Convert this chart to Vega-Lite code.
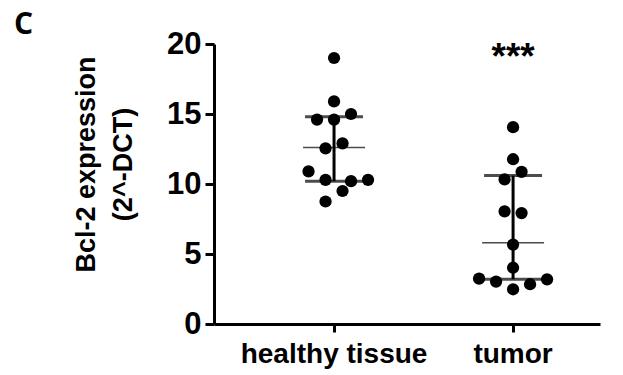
{
  "$schema": "https://vega.github.io/schema/vega-lite/v6.json",
  "autosize": "none",
  "width": 386,
  "height": 280,
  "padding": {"left": 214, "top": 44, "right": 23, "bottom": 51},
  "background": "white",
  "title": {"text": "C", "anchor": "start", "frame": "group", "dx": -200, "dy": 36, "offset": 0, "baseline": "alphabetic", "font": "Open Sans", "fontSize": 30, "fontWeight": "bold", "color": "black"},
  "config": {"view": {"stroke": null}, "font": "Liberation Sans"},
  "datasets": {
    "points": [
      {"group": "healthy tissue", "col": 0, "value": 19.0},
      {"group": "healthy tissue", "col": 0, "value": 15.9},
      {"group": "healthy tissue", "col": 2, "value": 15.0},
      {"group": "healthy tissue", "col": 0, "value": 14.6},
      {"group": "healthy tissue", "col": -2, "value": 14.6},
      {"group": "healthy tissue", "col": 1, "value": 12.9},
      {"group": "healthy tissue", "col": -1, "value": 12.55},
      {"group": "healthy tissue", "col": -3, "value": 10.9},
      {"group": "healthy tissue", "col": -1, "value": 10.3},
      {"group": "healthy tissue", "col": 2, "value": 10.2},
      {"group": "healthy tissue", "col": 4, "value": 10.3},
      {"group": "healthy tissue", "col": 1, "value": 9.5},
      {"group": "healthy tissue", "col": -1, "value": 8.75},
      {"group": "tumor", "col": 0, "value": 14.06},
      {"group": "tumor", "col": 0, "value": 11.77},
      {"group": "tumor", "col": 1, "value": 10.87},
      {"group": "tumor", "col": -1, "value": 10.33},
      {"group": "tumor", "col": -1, "value": 8.04},
      {"group": "tumor", "col": 1, "value": 7.92},
      {"group": "tumor", "col": 0, "value": 5.67},
      {"group": "tumor", "col": 0, "value": 4.02},
      {"group": "tumor", "col": -4, "value": 3.24},
      {"group": "tumor", "col": -2, "value": 3.03},
      {"group": "tumor", "col": 2, "value": 2.84},
      {"group": "tumor", "col": 4, "value": 3.19},
      {"group": "tumor", "col": 0, "value": 2.48}
    ],
    "summary": [
      {"group": "healthy tissue", "median": 12.6, "q1": 10.2, "q3": 14.8},
      {"group": "tumor", "median": 5.8, "q1": 3.2, "q3": 10.6}
    ],
    "signif": [
      {"group": "tumor", "label": "***", "y": 19.0}
    ]
  },
  "encoding": {
    "x": {
      "field": "group", "type": "nominal", "sort": ["healthy tissue", "tumor"],
      "scale": {"type": "band", "paddingInner": 1, "paddingOuter": 0.578, "align": 0.58},
      "axis": {"title": null, "labelAngle": 0, "labelLimit": 0, "labelFont": "Liberation Sans", "labelFontSize": 28, "labelFontWeight": "bold", "labelColor": "black", "labelPadding": 8, "domainColor": "black", "domainWidth": 3, "tickColor": "black", "tickWidth": 3, "tickSize": 8, "grid": false}
    }
  },
  "layer": [
    {
      "data": {"name": "summary"},
      "mark": {"type": "rule", "color": "black", "strokeWidth": 3},
      "encoding": {
        "y": {"field": "q1", "type": "quantitative"},
        "y2": {"field": "q3"}
      }
    },
    {
      "data": {"name": "points"},
      "mark": {"type": "circle", "color": "black", "opacity": 1, "size": 150},
      "encoding": {
        "xOffset": {"field": "col", "type": "quantitative", "scale": {"domain": [-4, 4], "range": [-34, 34]}},
        "y": {
          "field": "value", "type": "quantitative",
          "scale": {"domain": [0, 20], "nice": false, "zero": true},
          "axis": {"title": ["Bcl-2 expression", "(2^-DCT)"], "values": [0, 5, 10, 15, 20], "grid": false, "labelFont": "Liberation Sans", "labelFontSize": 31, "labelFontWeight": "bold", "labelColor": "black", "labelPadding": 4, "domainColor": "black", "domainWidth": 3, "tickColor": "black", "tickWidth": 3, "tickSize": 9, "titleFont": "Liberation Sans", "titleFontSize": 27, "titleFontWeight": "bold", "titleColor": "black", "titleX": -114, "titleY": 120, "titleLineHeight": 37}
        }
      }
    },
    {
      "data": {"name": "summary"},
      "mark": {"type": "tick", "color": "black", "thickness": 3, "size": 58, "orient": "horizontal"},
      "encoding": {"y": {"field": "q1", "type": "quantitative"}}
    },
    {
      "data": {"name": "summary"},
      "mark": {"type": "tick", "color": "black", "thickness": 3, "size": 58, "orient": "horizontal"},
      "encoding": {"y": {"field": "q3", "type": "quantitative"}}
    },
    {
      "data": {"name": "summary"},
      "mark": {"type": "tick", "color": "black", "thickness": 1.5, "size": 62, "orient": "horizontal"},
      "encoding": {"y": {"field": "median", "type": "quantitative"}}
    },
    {
      "data": {"name": "signif"},
      "mark": {"type": "text", "color": "black", "font": "Liberation Sans", "fontSize": 37, "fontWeight": "bold", "baseline": "middle"},
      "encoding": {
        "y": {"field": "y", "type": "quantitative"},
        "text": {"field": "label"}
      }
    }
  ]
}
